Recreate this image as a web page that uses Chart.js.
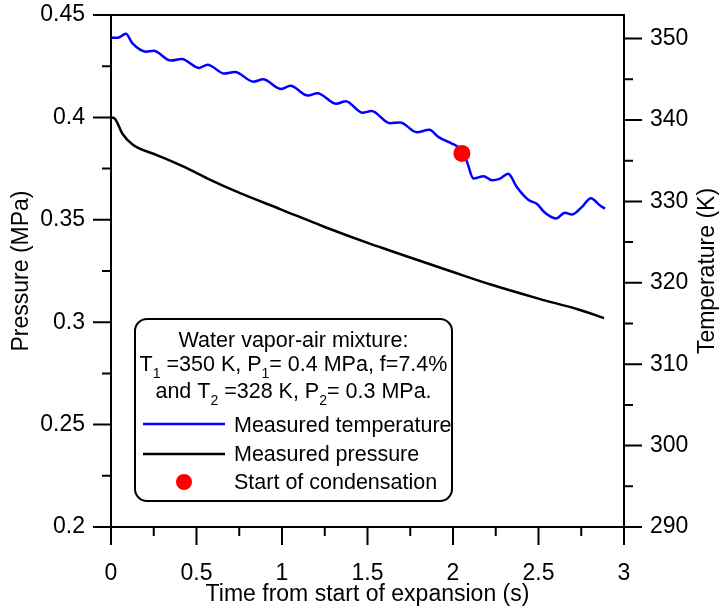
<!DOCTYPE html>
<html>
<head>
<meta charset="utf-8">
<script src="https://cdn.jsdelivr.net/npm/chart.js@4.4.1/dist/chart.umd.min.js"></script>
<style>
  html, body { margin: 0; padding: 0; background: #fff; }
  #wrap { width: 720px; height: 610px; }
</style>
</head>
<body>
<div id="wrap"><canvas id="expansionChart" width="720" height="610"></canvas></div>
<script>
// measured temperature (K) vs time (s)
const tempTime = [0, 0.04, 0.087, 0.126, 0.204, 0.249, 0.35, 0.413, 0.516, 0.565, 0.663, 0.725,
  0.834, 0.889, 0.996, 1.049, 1.152, 1.207, 1.318, 1.373, 1.47, 1.523, 1.632, 1.691, 1.789, 1.861,
  1.916, 1.994, 2.04, 2.081, 2.12, 2.179, 2.228, 2.275, 2.323, 2.372, 2.44, 2.49, 2.538, 2.602,
  2.655, 2.694, 2.753, 2.806, 2.86, 2.889];
const tempValues = [350.1, 350.1, 350.6, 349.4, 348.4, 348.5, 347.3, 347.5, 346.4, 346.8, 345.7, 345.9,
  344.7, 345.0, 343.8, 344.2, 343.0, 343.3, 342.0, 342.3, 340.9, 341.1, 339.6, 339.7, 338.5, 338.8,
  337.9, 337.1, 336.5, 334.9, 332.8, 333.1, 332.6, 332.8, 333.4, 331.8, 330.2, 329.7, 328.6, 327.9,
  328.6, 328.4, 329.3, 330.4, 329.5, 329.1];

// measured pressure (MPa) vs time (s)
const presTime = [0, 0.022, 0.067, 0.126, 0.272, 0.428, 0.565, 0.752, 0.996, 1.25, 1.525, 1.613,
  2.0, 2.216, 2.5, 2.733, 2.883];
const presValues = [0.4, 0.3994, 0.392, 0.3868, 0.3815, 0.3758, 0.3701, 0.3631, 0.355, 0.3465, 0.338, 0.3355,
  0.3245, 0.3185, 0.3115, 0.3062, 0.302];

// start of condensation
const condTime = [2.052];
const condTemp = [335.9];

const xTicks = [0, 0.5, 1, 1.5, 2, 2.5, 3];
const pressureTicks = [0.2, 0.25, 0.3, 0.35, 0.4, 0.45];
const temperatureTicks = [290, 300, 310, 320, 330, 340, 350];

const legendLines = ['Water vapor-air mixture:'];
const FONT = "'Liberation Sans', Arial, sans-serif";
const AXIS_SIZE = 23;

const pair = (xs, ys) => xs.map((x, i) => ({ x: x, y: ys[i] }));
const fmt = v => String(+(+v).toFixed(2));

// ticks (major + minor) drawn outward from each axis
const tickPlugin = {
  id: 'outerTicks',
  afterDraw(chart) {
    const ctx = chart.ctx;
    const a = chart.chartArea;
    const s = chart.scales;
    ctx.save();
    ctx.strokeStyle = '#000';
    ctx.lineWidth = 2;
    ctx.beginPath();
    ctx.moveTo(a.left - 1, a.top);
    ctx.lineTo(a.right + 1, a.top);
    ctx.stroke();

    const mk = (scale, major, minor, draw) => {
      for (let v = scale.min; v <= scale.max + 1e-9; v += minor) {
        const isMajor = Math.abs(v / major - Math.round(v / major)) < 1e-6;
        draw(scale.getPixelForValue(v), isMajor ? 18 : 9);
      }
    };
    ctx.beginPath();
    mk(s.x, 0.5, 0.25, (p, len) => { ctx.moveTo(p, a.bottom); ctx.lineTo(p, a.bottom + len); });
    mk(s.yP, 0.05, 0.025, (p, len) => { ctx.moveTo(a.left, p); ctx.lineTo(a.left - len, p); });
    for (let v = 290; v <= s.yT.max; v += 5) {
      const p = s.yT.getPixelForValue(v);
      const len = v % 10 === 0 ? 18 : 9;
      ctx.moveTo(a.right, p); ctx.lineTo(a.right + len, p);
    }
    ctx.stroke();

    // right axis title, reading bottom to top
    ctx.fillStyle = '#000';
    ctx.font = AXIS_SIZE + 'px ' + FONT;
    ctx.translate(708, (a.top + a.bottom) / 2);
    ctx.rotate(-Math.PI / 2);
    ctx.textAlign = 'center';
    ctx.textBaseline = 'middle';
    ctx.fillText('Temperature (K)', 0, 0);
    ctx.restore();
  }
};

// boxed legend with the test conditions
const legendPlugin = {
  id: 'boxLegend',
  afterDraw(chart) {
    const ctx = chart.ctx;
    const bx = 135, by = 319, bw = 317, bh = 182, r = 12;
    ctx.save();
    ctx.fillStyle = '#fff';
    ctx.strokeStyle = '#000';
    ctx.lineWidth = 2;
    ctx.beginPath();
    ctx.roundRect(bx, by, bw, bh, r);
    ctx.fill();
    ctx.stroke();

    const big = '21.5px ' + FONT, small = '14px ' + FONT;
    ctx.fillStyle = '#000';
    ctx.textBaseline = 'alphabetic';
    const cx = bx + bw / 2;

    // a line made of [text, isSub] parts, centred
    const drawParts = (parts, y) => {
      let w = 0;
      parts.forEach(p => { ctx.font = p[1] ? small : big; w += ctx.measureText(p[0]).width; });
      let x = cx - w / 2;
      ctx.textAlign = 'left';
      parts.forEach(p => {
        ctx.font = p[1] ? small : big;
        ctx.fillText(p[0], x, p[1] ? y + 7 : y);
        x += ctx.measureText(p[0]).width;
      });
    };
    drawParts([[legendLines[0], false]], 347);
    drawParts([['T', false], ['1', true], [' =350 K, P', false], ['1', true], ['= 0.4 MPa, f=7.4%', false]], 371);
    drawParts([['and T', false], ['2', true], [' =328 K, P', false], ['2', true], ['= 0.3 MPa.', false]], 398);

    ctx.lineWidth = 2.5;
    ctx.strokeStyle = '#0000ff';
    ctx.beginPath(); ctx.moveTo(143, 424); ctx.lineTo(225, 424); ctx.stroke();
    ctx.strokeStyle = '#000';
    ctx.beginPath(); ctx.moveTo(143, 454); ctx.lineTo(225, 454); ctx.stroke();
    ctx.fillStyle = '#ff0000';
    ctx.beginPath(); ctx.arc(184, 482, 8, 0, Math.PI * 2); ctx.fill();

    ctx.fillStyle = '#000';
    ctx.font = big;
    ctx.textAlign = 'left';
    ctx.fillText('Measured temperature', 234, 432);
    ctx.fillText('Measured pressure', 234, 461);
    ctx.fillText('Start of condensation', 234, 489);
    ctx.restore();
  }
};

const noPadY = s => { s.paddingTop = 0; s.paddingBottom = 0; };
const axisFont = { family: FONT, size: AXIS_SIZE };

const ctx = document.getElementById('expansionChart').getContext('2d');

const chart = new Chart(ctx, {
  type: 'line',
  data: {
    datasets: [
      {
        label: 'Start of condensation',
        data: pair(condTime, condTemp),
        yAxisID: 'yT',
        showLine: false,
        pointRadius: 8.5,
        pointBackgroundColor: '#ff0000',
        pointBorderWidth: 0
      },
      {
        label: 'Measured temperature',
        data: pair(tempTime, tempValues),
        yAxisID: 'yT',
        borderColor: '#0000ff',
        borderWidth: 2.5,
        pointRadius: 0,
        cubicInterpolationMode: 'monotone'
      },
      {
        label: 'Measured pressure',
        data: pair(presTime, presValues),
        yAxisID: 'yP',
        borderColor: '#000',
        borderWidth: 2.5,
        pointRadius: 0,
        cubicInterpolationMode: 'monotone'
      }
    ]
  },
  options: {
    responsive: false,
    animation: false,
    layout: { padding: { top: 15, left: 0, right: 0, bottom: 0 } },
    plugins: { legend: { display: false }, tooltip: { enabled: false } },
    scales: {
      x: {
        type: 'linear',
        min: 0,
        max: 3,
        afterFit: s => { s.height = 83; s.paddingLeft = 0; s.paddingRight = 0; },
        afterBuildTicks: s => { s.ticks = xTicks.map(v => ({ value: v })); },
        grid: { drawOnChartArea: false, drawTicks: false },
        border: { display: true, color: '#000', width: 2 },
        ticks: { color: '#000', font: axisFont, padding: 33, maxRotation: 0, autoSkip: false, callback: fmt },
        title: { display: true, text: 'Time from start of expansion (s)', color: '#000', font: axisFont, padding: { top: 0, bottom: 2 } }
      },
      yP: {
        position: 'left',
        min: 0.2,
        max: 0.45,
        afterFit: s => { s.width = 111; noPadY(s); },
        afterBuildTicks: s => { s.ticks = pressureTicks.map(v => ({ value: v })); },
        grid: { drawOnChartArea: false, drawTicks: false },
        border: { display: true, color: '#000', width: 2 },
        ticks: { color: '#000', font: axisFont, padding: 26, autoSkip: false, callback: fmt },
        title: { display: true, text: 'Pressure (MPa)', color: '#000', font: axisFont, padding: { top: 8, bottom: 0 } }
      },
      yT: {
        position: 'right',
        min: 290,
        max: 352.9,
        afterFit: s => { s.width = 96; noPadY(s); },
        afterBuildTicks: s => { s.ticks = temperatureTicks.map(v => ({ value: v })); },
        grid: { drawOnChartArea: false, drawTicks: false },
        border: { display: true, color: '#000', width: 2 },
        ticks: { color: '#000', font: axisFont, padding: 26, autoSkip: false }
      }
    }
  },
  plugins: [tickPlugin, legendPlugin]
});
</script>
</body>
</html>
